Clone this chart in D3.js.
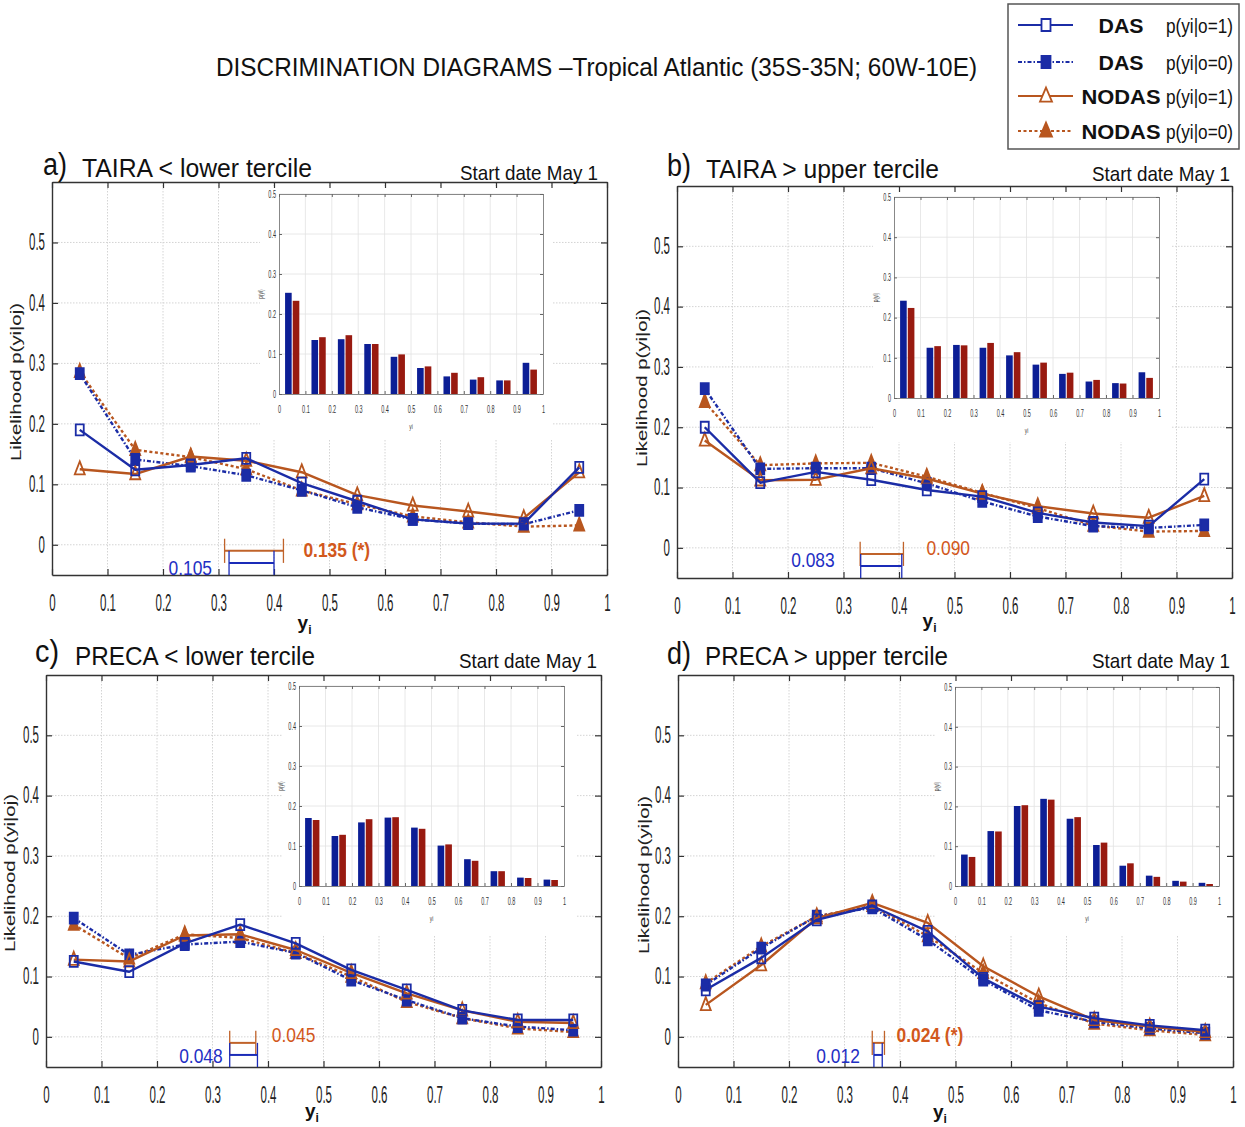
<!DOCTYPE html>
<html><head><meta charset="utf-8">
<script src="https://cdn.jsdelivr.net/npm/d3@7"></script>
<style>
body{margin:0;background:#fff}
svg{display:block}
text{font-family:"Liberation Sans",Arial,Helvetica,sans-serif}
</style>
</head><body>
<svg id="chart" width="1245" height="1127"></svg>
<script>
// ---------------- DATA ----------------
const bins = [0.05,0.15,0.25,0.35,0.45,0.55,0.65,0.75,0.85,0.95];
const xTickValues = [0,0.1,0.2,0.3,0.4,0.5,0.6,0.7,0.8,0.9,1];
const xTickLabels = ["0","0.1","0.2","0.3","0.4","0.5","0.6","0.7","0.8","0.9","1"];
const yTickValues = [0,0.1,0.2,0.3,0.4,0.5];
const yTickLabels = ["0","0.1","0.2","0.3","0.4","0.5"];

const chartTitle = "DISCRIMINATION DIAGRAMS \u2013Tropical Atlantic (35S-35N; 60W-10E)";
const panelLetters = ["a)","b)","c)","d)"];
const panelTitles = ["TAIRA < lower tercile","TAIRA > upper tercile","PRECA < lower tercile","PRECA > upper tercile"];
const startDateLabel = "Start date May 1";
const yAxisTitle = "Likelihood p(yi|oj)";
const legendNames = ["DAS","DAS","NODAS","NODAS"];
const legendConds = ["p(yi|o=1)","p(yi|o=0)","p(yi|o=1)","p(yi|o=0)"];

// panel a
const aDasO1    = [0.190,0.124,0.132,0.143,0.102,0.072,0.042,0.035,0.035,0.128];
const aDasO0    = [0.283,0.141,0.130,0.115,0.090,0.062,0.042,0.035,0.034,0.057];
const aNodasO1  = [0.125,0.117,0.146,0.139,0.120,0.082,0.065,0.055,0.044,0.120];
const aNodasO0  = [0.286,0.157,0.145,0.125,0.090,0.067,0.047,0.037,0.030,0.032];
const aInsetDas   = [0.253,0.135,0.137,0.125,0.093,0.065,0.044,0.036,0.034,0.078];
const aInsetNodas = [0.233,0.142,0.147,0.125,0.099,0.069,0.053,0.042,0.034,0.061];
// panel b
const bDasO1    = [0.200,0.108,0.126,0.113,0.096,0.085,0.058,0.042,0.036,0.114];
const bDasO0    = [0.264,0.131,0.132,0.132,0.107,0.077,0.052,0.036,0.033,0.038];
const bNodasO1  = [0.178,0.112,0.113,0.132,0.115,0.090,0.069,0.057,0.050,0.086];
const bNodasO0  = [0.242,0.137,0.140,0.141,0.118,0.091,0.066,0.037,0.027,0.028];
const bInsetDas   = [0.242,0.125,0.132,0.125,0.106,0.083,0.060,0.041,0.037,0.064];
const bInsetNodas = [0.224,0.129,0.131,0.137,0.114,0.088,0.063,0.045,0.036,0.050];
// panel c
const cDasO1    = [0.125,0.108,0.155,0.186,0.155,0.111,0.078,0.044,0.028,0.028];
const cDasO0    = [0.197,0.136,0.153,0.158,0.139,0.094,0.061,0.031,0.017,0.011];
const cNodasO1  = [0.128,0.125,0.168,0.170,0.144,0.106,0.072,0.044,0.025,0.023];
const cNodasO0  = [0.186,0.130,0.170,0.164,0.139,0.100,0.058,0.031,0.014,0.008];
const cInsetDas   = [0.170,0.125,0.159,0.171,0.146,0.101,0.067,0.037,0.021,0.016];
const cInsetNodas = [0.165,0.128,0.167,0.172,0.143,0.104,0.063,0.037,0.020,0.015];
// panel d
const dDasO1    = [0.078,0.131,0.194,0.217,0.175,0.097,0.050,0.031,0.019,0.011];
const dDasO0    = [0.086,0.147,0.200,0.214,0.161,0.094,0.044,0.025,0.014,0.006];
const dNodasO1  = [0.053,0.119,0.197,0.222,0.189,0.117,0.067,0.028,0.017,0.008];
const dNodasO0  = [0.089,0.150,0.200,0.217,0.167,0.106,0.056,0.022,0.011,0.003];
const dInsetDas   = [0.079,0.138,0.201,0.219,0.169,0.103,0.051,0.026,0.013,0.008];
const dInsetNodas = [0.073,0.137,0.203,0.217,0.173,0.109,0.057,0.023,0.011,0.005];

// scores (bracket extents in yi units and labels)
const scoreLabelsDas   = ["0.105","0.083","0.048","0.012"];
const scoreLabelsNodas = ["0.135 (*)","0.090","0.045","0.024 (*)"];
const rangeDas   = [[0.319,0.400],[0.331,0.405],[0.331,0.381],[0.353,0.368]];
const rangeNodas = [[0.311,0.417],[0.330,0.408],[0.331,0.378],[0.350,0.372]];

// ---------------- STYLE / LAYOUT ----------------
const BLUE = "#1b2ca6", ORANGE = "#b8561f", SCORE_OR = "#d2581c", SCORE_BL = "#1f2fc4";
const BAR_BLUE = "#0c1e95", BAR_RED = "#981a10";
const seriesData = [
  [aDasO1,aDasO0,aNodasO1,aNodasO0],
  [bDasO1,bDasO0,bNodasO1,bNodasO0],
  [cDasO1,cDasO0,cNodasO1,cNodasO0],
  [dDasO1,dDasO0,dNodasO1,dNodasO0]
];
const insetData = [[aInsetDas,aInsetNodas],[bInsetDas,bInsetNodas],[cInsetDas,cInsetNodas],[dInsetDas,dInsetNodas]];
const seriesStyles = [
  {color:BLUE,   dash:null,        marker:"square",   filled:false},
  {color:BLUE,   dash:"4,2,1.5,2", marker:"square",   filled:true},
  {color:ORANGE, dash:null,        marker:"triangle", filled:false},
  {color:ORANGE, dash:"3,2.5",     marker:"triangle", filled:true}
];
const layouts = [
  {x0:52,x1:607,top:182,bottom:575, letterX:43,letterBase:175,titleX:82,titleW:230,titleBase:177,
   startX1:598,startBase:180, ylabX:21,ylabY:382, xlabFrac:0.455,xlabBase:629,
   oDx:20,oBase:557,bDx:17,bBase:575,
   inset:{x0:279,x1:543,top:194,bottom:394,bg:[260,186,552,440]}},
  {x0:677,x1:1232,top:186,bottom:578, letterX:667,letterBase:176,titleX:706,titleW:233,titleBase:178,
   startX1:1230,startBase:181, ylabX:647,ylabY:388, xlabFrac:0.455,xlabBase:627,
   oDx:23,oBase:555,bDx:26,bBase:567,
   inset:{x0:894,x1:1159,top:197,bottom:398,bg:[873,188,1172,442]}},
  {x0:46,x1:601,top:675,bottom:1067, letterX:35,letterBase:662,titleX:75,titleW:240,titleBase:665,
   startX1:597,startBase:668, ylabX:15,ylabY:873, xlabFrac:0.479,xlabBase:1117,
   oDx:16,oBase:1042,bDx:7,bBase:1063,
   inset:{x0:299,x1:564,top:686,bottom:886,bg:[282,677,576,935]}},
  {x0:678,x1:1233,top:675,bottom:1067, letterX:667,letterBase:664,titleX:705,titleW:243,titleBase:665,
   startX1:1230,startBase:668, ylabX:649,ylabY:875, xlabFrac:0.472,xlabBase:1118,
   oDx:12,oBase:1042,bDx:14,bBase:1063,
   inset:{x0:955,x1:1219,top:687,bottom:886,bg:[936,677,1228,935]}}
];

const svg = d3.select("#chart");

function condense(sel, f){
  sel.each(function(){
    const w = this.getComputedTextLength();
    d3.select(this).attr("textLength", w*f).attr("lengthAdjust","spacingAndGlyphs");
  });
}
function fit(sel, w){ sel.attr("textLength", w).attr("lengthAdjust","spacingAndGlyphs"); }

function markerPath(type, w, h){
  if(type==="square") return `M${-w/2},${-h/2}H${w/2}V${h/2}H${-w/2}Z`;
  return `M0,${-h*0.6}L${w/2},${h*0.4}L${-w/2},${h*0.4}Z`;
}

// ---------------- TITLE ----------------
svg.append("text").attr("x",216).attr("y",76).attr("font-size",26).attr("fill","#111")
  .text(chartTitle).call(fit,761);

// ---------------- LEGEND ----------------
const leg = svg.append("g");
leg.append("rect").attr("x",1008).attr("y",4).attr("width",231).attr("height",145)
  .attr("fill","#fff").attr("stroke","#555").attr("stroke-width",1.5);
const legRows = [25,62,96,131];
legRows.forEach((ry,k)=>{
  const st = seriesStyles[k];
  leg.append("line").attr("x1",1018).attr("x2",1073).attr("y1",ry).attr("y2",ry)
    .attr("stroke",st.color).attr("stroke-width",2).attr("stroke-dasharray",st.dash);
  leg.append("path").attr("d",markerPath(st.marker, st.marker==="square"?9:12, st.marker==="square"?12:14))
    .attr("transform",`translate(1046,${ry})`)
    .attr("fill",st.filled?st.color:"#fff").attr("stroke",st.color).attr("stroke-width",1.8);
  leg.append("text").attr("x",1121).attr("y",ry+8).attr("text-anchor","middle")
    .attr("font-size",21).attr("font-weight","bold").attr("fill","#111")
    .text(legendNames[k]).call(fit, legendNames[k]==="DAS"?45:79);
  const ct = leg.append("text").attr("x",0).attr("y",0).attr("font-size",21).attr("fill","#111")
    .text(legendConds[k]);
  const nat = ct.node().getComputedTextLength();
  ct.attr("transform",`translate(1166,${ry+8}) scale(${67/nat},1)`);
});

// ---------------- PANELS ----------------
function drawInset(g, I, das, nodas){
  g.append("rect").attr("x",I.bg[0]).attr("y",I.bg[1]).attr("width",I.bg[2]-I.bg[0])
    .attr("height",I.bg[3]-I.bg[1]).attr("fill","#fff");
  const x = d3.scaleLinear().domain([0,1]).range([I.x0,I.x1]);
  const y = d3.scaleLinear().domain([0,0.5]).range([I.bottom,I.top]);
  g.append("g").selectAll("line").data(xTickValues.slice(1,-1)).join("line")
    .attr("x1",d=>x(d)).attr("x2",d=>x(d)).attr("y1",I.top).attr("y2",I.bottom)
    .attr("stroke","#e2e2e2").attr("stroke-width",0.8);
  g.append("g").selectAll("line").data(yTickValues.slice(1)).join("line")
    .attr("x1",I.x0).attr("x2",I.x1).attr("y1",d=>y(d)).attr("y2",d=>y(d))
    .attr("stroke","#e2e2e2").attr("stroke-width",0.8);
  const bw = x(0.025)-x(0);
  g.append("g").selectAll("rect").data(bins).join("rect")
    .attr("x",(d)=>x(d-0.0145)-bw/2).attr("width",bw)
    .attr("y",(d,k)=>y(das[k])).attr("height",(d,k)=>y(0)-y(das[k])).attr("fill",BAR_BLUE);
  g.append("g").selectAll("rect").data(bins).join("rect")
    .attr("x",(d)=>x(d+0.0145)-bw/2).attr("width",bw)
    .attr("y",(d,k)=>y(nodas[k])).attr("height",(d,k)=>y(0)-y(nodas[k])).attr("fill",BAR_RED);
  const styleAx = a=>{
    a.select(".domain").attr("stroke","#888").attr("stroke-width",1);
    a.selectAll(".tick line").attr("stroke","#666");
    a.selectAll("text").attr("font-size",10).attr("fill","#333").call(condense,0.55);
  };
  g.append("g").attr("transform",`translate(0,${I.bottom})`)
    .call(d3.axisBottom(x).tickValues(xTickValues).tickFormat((d,k)=>xTickLabels[k]).tickSize(-3).tickSizeOuter(0).tickPadding(12))
    .call(styleAx);
  g.append("g").attr("transform",`translate(${I.x0},0)`)
    .call(d3.axisLeft(y).tickValues(yTickValues).tickFormat((d,k)=>yTickLabels[k]).tickSize(-3).tickSizeOuter(0).tickPadding(3))
    .call(styleAx);
  g.append("g").attr("transform",`translate(0,${I.top})`)
    .call(d3.axisTop(x).tickValues(xTickValues).tickFormat("").tickSize(-3).tickSizeOuter(0)).call(styleAx);
  g.append("g").attr("transform",`translate(${I.x1},0)`)
    .call(d3.axisRight(y).tickValues(yTickValues).tickFormat("").tickSize(-3).tickSizeOuter(0)).call(styleAx);
  g.append("text").attr("x",(I.x0+I.x1)/2).attr("y",I.bottom+35).attr("text-anchor","middle")
    .attr("font-size",8).attr("fill","#444").text("yi").call(condense,0.6);
  g.append("text").attr("transform",`translate(${I.x0-16},${(I.top+I.bottom)/2}) rotate(-90)`)
    .attr("text-anchor","middle").attr("font-size",8).attr("fill","#444").text("p(yi)").call(condense,0.6);
}

function drawPanel(i){
  const L = layouts[i];
  const g = svg.append("g");
  const x = d3.scaleLinear().domain([0,1]).range([L.x0,L.x1]);
  const y = d3.scaleLinear().domain([-0.05,0.6]).range([L.bottom,L.top]);

  // grid
  g.append("g").selectAll("line").data(xTickValues.slice(1,-1)).join("line")
    .attr("x1",d=>x(d)).attr("x2",d=>x(d)).attr("y1",L.top).attr("y2",L.bottom)
    .attr("stroke","#d4d4d4").attr("stroke-width",1).attr("stroke-dasharray","1.5,1.5");
  g.append("g").selectAll("line").data(yTickValues).join("line")
    .attr("x1",L.x0).attr("x2",L.x1).attr("y1",d=>y(d)).attr("y2",d=>y(d))
    .attr("stroke","#d4d4d4").attr("stroke-width",1).attr("stroke-dasharray","1.5,1.5");

  drawInset(g, L.inset, insetData[i][0], insetData[i][1]);

  // axes
  const styleMain = a=>{
    a.select(".domain").attr("stroke","#333").attr("stroke-width",1.4);
    a.selectAll(".tick line").attr("stroke","#333").attr("stroke-width",1.2);
    a.selectAll("text").attr("font-size",23).attr("fill","#222").call(condense,0.5);
  };
  g.append("g").attr("transform",`translate(0,${L.bottom})`)
    .call(d3.axisBottom(x).tickValues(xTickValues).tickFormat((d,k)=>xTickLabels[k]).tickSize(-6).tickSizeOuter(0).tickPadding(20))
    .call(styleMain);
  g.append("g").attr("transform",`translate(${L.x0},0)`)
    .call(d3.axisLeft(y).tickValues(yTickValues).tickFormat((d,k)=>yTickLabels[k]).tickSize(-6).tickSizeOuter(0).tickPadding(7))
    .call(styleMain);
  g.append("g").attr("transform",`translate(0,${L.top})`)
    .call(d3.axisTop(x).tickValues(xTickValues).tickFormat("").tickSize(-6).tickSizeOuter(0)).call(styleMain);
  g.append("g").attr("transform",`translate(${L.x1},0)`)
    .call(d3.axisRight(y).tickValues(yTickValues).tickFormat("").tickSize(-6).tickSizeOuter(0)).call(styleMain);

  // score brackets
  const bracket = (r, yc, color)=>{
    const h = 0.02;
    const bg = g.append("g").attr("stroke",color).attr("stroke-width",2);
    bg.append("line").attr("x1",x(r[0])).attr("x2",x(r[1])).attr("y1",y(yc)).attr("y2",y(yc));
    bg.append("line").attr("x1",x(r[0])).attr("x2",x(r[0])).attr("y1",y(yc+h)).attr("y2",y(yc-h)).attr("stroke-width",1.3);
    bg.append("line").attr("x1",x(r[1])).attr("x2",x(r[1])).attr("y1",y(yc+h)).attr("y2",y(yc-h)).attr("stroke-width",1.3);
  };
  bracket(rangeNodas[i], -0.01, "#c0632a");
  bracket(rangeDas[i], -0.03, "#1a2bb8");
  const starO = scoreLabelsNodas[i].includes("*");
  g.append("text").attr("x",x(rangeNodas[i][1])+L.oDx).attr("y",L.oBase)
    .attr("font-size",20).attr("font-weight",starO?"bold":"normal").attr("fill",SCORE_OR)
    .text(scoreLabelsNodas[i]).call(condense,0.87);
  g.append("text").attr("x",x(rangeDas[i][0])-L.bDx).attr("y",L.bBase).attr("text-anchor","end")
    .attr("font-size",20).attr("fill",SCORE_BL)
    .text(scoreLabelsDas[i]).call(condense,0.87);

  // series
  const order = [3,1,2,0];
  order.forEach(s=>{
    const st = seriesStyles[s];
    const vals = seriesData[i][s];
    const line = d3.line().x((d,k)=>x(bins[k])).y(d=>y(d));
    g.append("path").datum(vals).attr("d",line).attr("fill","none")
      .attr("stroke",st.color).attr("stroke-width",2.4).attr("stroke-dasharray",st.dash)
      .attr("stroke-linejoin","round");
    g.append("g").selectAll("path").data(vals).join("path")
      .attr("d",markerPath(st.marker, st.marker==="square"?8:10, st.marker==="square"?11:13))
      .attr("transform",(d,k)=>`translate(${x(bins[k])},${y(d)})`)
      .attr("fill",st.filled?st.color:"none").attr("stroke",st.color).attr("stroke-width",1.8);
  });

  // titles
  g.append("text").attr("x",L.letterX).attr("y",L.letterBase).attr("font-size",31).attr("fill","#111")
    .text(panelLetters[i]).call(fit,24);
  g.append("text").attr("x",L.titleX).attr("y",L.titleBase).attr("font-size",25).attr("fill","#111")
    .text(panelTitles[i]).call(fit,L.titleW);
  g.append("text").attr("x",L.startX1).attr("y",L.startBase).attr("text-anchor","end")
    .attr("font-size",21).attr("fill","#111").text(startDateLabel).call(fit,138);
  g.append("text").attr("transform",`translate(${L.ylabX},${L.ylabY}) rotate(-90)`)
    .attr("text-anchor","middle").attr("font-size",14).attr("fill","#222")
    .text(yAxisTitle).call(fit,158);
  const xl = g.append("text").attr("x",x(L.xlabFrac)).attr("y",L.xlabBase).attr("text-anchor","middle")
    .attr("font-size",19).attr("font-weight","bold").attr("fill","#111");
  xl.append("tspan").text("y");
  xl.append("tspan").attr("font-size",12).attr("dy",5).text("i");
}

[0,1,2,3].forEach(drawPanel);
</script>
</body></html>
